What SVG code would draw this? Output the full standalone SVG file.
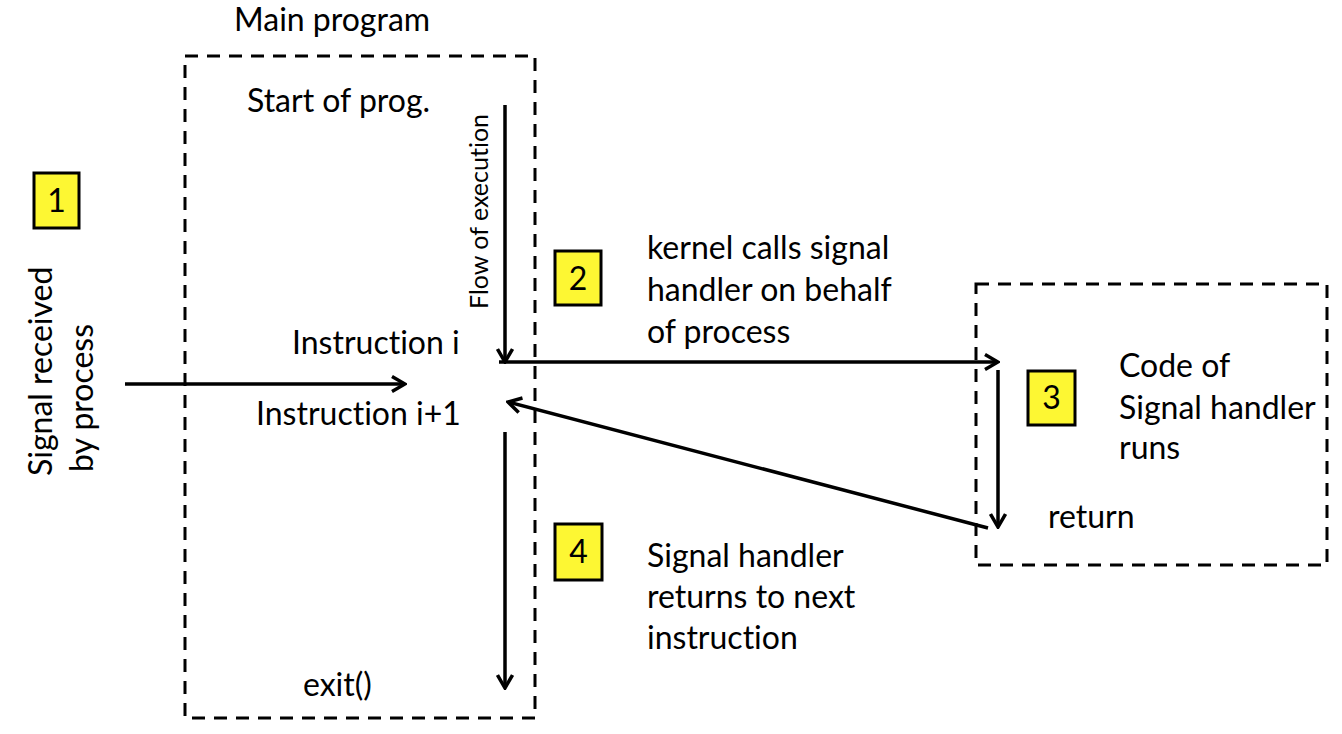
<svg xmlns="http://www.w3.org/2000/svg" width="1342" height="734" viewBox="0 0 1342 734">
<defs>
<style>
text{font-family:Lato,"Open Sans","Liberation Sans",sans-serif;fill:#000;font-size:32px;font-variant-ligatures:none}
.small{font-size:25px}
.box{fill:none;stroke:#000;stroke-width:3;stroke-dasharray:13 9}
.num{fill:#fdf733;stroke:#000;stroke-width:3}
.arr{fill:none;stroke:#000;stroke-width:3.5;marker-end:url(#ah)}
</style>
<marker id="ah" viewBox="0 0 18 18" refX="16" refY="9" markerWidth="18" markerHeight="18" markerUnits="userSpaceOnUse" orient="auto">
<path d="M3 1.5 L16 9 L3 16.5" fill="none" stroke="#000" stroke-width="3.5"/>
</marker>
</defs>
<rect width="1342" height="734" fill="#fff"/>
<g id="main-program">
<rect class="box" x="185" y="56" width="350" height="662"/>
<text x="234" y="31">Main program</text>
<text x="247" y="112">Start of prog.</text>
<text x="292" y="354">Instruction i</text>
<text x="256" y="425">Instruction i+1</text>
<text x="303" y="696">exit()</text>
<text class="small" transform="translate(488 309) rotate(-90)">Flow of execution</text>
</g>
<g id="signal-handler">
<rect class="box" x="976" y="284" width="351" height="281"/>
<text x="1119" y="377">Code of</text>
<text x="1119" y="419">Signal handler</text>
<text x="1119" y="459">runs</text>
<text x="1048" y="528">return</text>
</g>
<g id="signal-received">
<text transform="translate(52 476) rotate(-90)">Signal received</text>
<text transform="translate(93 472) rotate(-90)">by process</text>
</g>
<g id="step1"><rect class="num" x="34" y="173" width="45" height="55"/><text x="56.5" y="212" text-anchor="middle">1</text></g>
<g id="step2"><rect class="num" x="555" y="251" width="46" height="54"/><text x="578" y="290" text-anchor="middle">2</text></g>
<g id="step3"><rect class="num" x="1028" y="371" width="47" height="54"/><text x="1051.5" y="409" text-anchor="middle">3</text></g>
<g id="step4"><rect class="num" x="555" y="524" width="47" height="56"/><text x="578.5" y="563" text-anchor="middle">4</text></g>
<g id="kernel-label">
<text x="647" y="259">kernel calls signal</text>
<text x="647" y="301">handler on behalf</text>
<text x="647" y="343">of process</text>
</g>
<g id="return-label">
<text x="647" y="567">Signal handler</text>
<text x="647" y="608">returns to next</text>
<text x="647" y="649">instruction</text>
</g>
<g id="connectors">
<line class="arr" x1="505" y1="105" x2="505" y2="362"/>
<line class="arr" x1="125" y1="384" x2="405" y2="384"/>
<line class="arr" x1="499" y1="362" x2="998" y2="362"/>
<line class="arr" x1="998" y1="370" x2="998" y2="527"/>
<line class="arr" x1="988" y1="528" x2="508" y2="402"/>
<line class="arr" x1="505" y1="432" x2="505" y2="688"/>
</g>
</svg>
